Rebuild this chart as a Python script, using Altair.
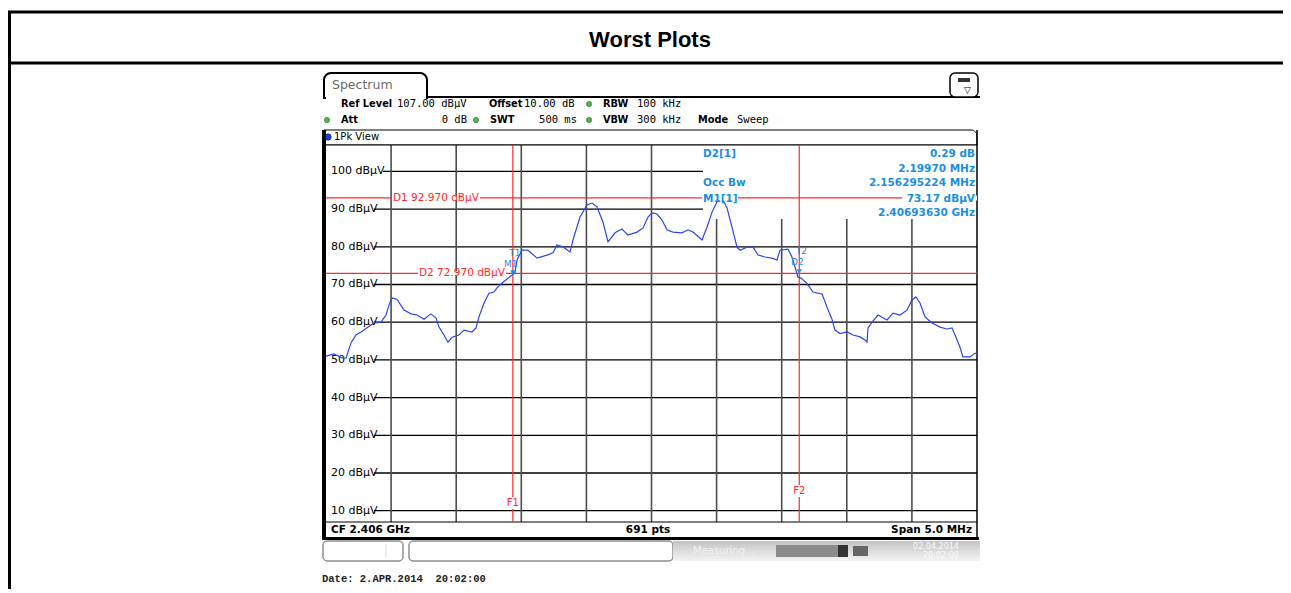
import altair as alt
import pandas as pd
import numpy as np

# ---------------- data ----------------
TITLE = "Worst Plots"

freq_mhz = [
    2403.500, 2403.561, 2403.623, 2403.654, 2403.692, 2403.730, 2403.769, 2403.815, 2403.869, 2403.922,
    2403.961, 2403.984, 2404.007, 2404.045, 2404.099, 2404.153, 2404.199, 2404.253, 2404.306, 2404.345,
    2404.368, 2404.406, 2404.437, 2404.468, 2404.521, 2404.560, 2404.621, 2404.652, 2404.675, 2404.714,
    2404.752, 2404.790, 2404.813, 2404.852, 2404.929, 2404.952, 2404.967, 2405.005, 2405.051, 2405.121,
    2405.197, 2405.243, 2405.274, 2405.320, 2405.374, 2405.397, 2405.451, 2405.505, 2405.543, 2405.581,
    2405.627, 2405.666, 2405.720, 2405.773, 2405.819, 2405.889, 2405.935, 2405.973, 2406.004, 2406.042,
    2406.081, 2406.119, 2406.165, 2406.234, 2406.280, 2406.319, 2406.388, 2406.426, 2406.465, 2406.503,
    2406.541, 2406.580, 2406.618, 2406.657, 2406.680, 2406.733, 2406.780, 2406.818, 2406.872, 2406.925,
    2406.964, 2406.987, 2407.048, 2407.079, 2407.102, 2407.125, 2407.148, 2407.194, 2407.240, 2407.310,
    2407.348, 2407.386, 2407.409, 2407.448, 2407.502, 2407.548, 2407.601, 2407.640, 2407.655, 2407.663,
    2407.694, 2407.740, 2407.809, 2407.855, 2407.909, 2407.962, 2408.001, 2408.031, 2408.062, 2408.101,
    2408.154, 2408.216, 2408.270, 2408.308, 2408.331, 2408.369, 2408.392, 2408.446, 2408.485, 2408.500,
]
level_dbuv = [
    51.0, 51.6, 50.5, 50.5, 54.5, 56.6, 57.4, 58.5, 59.8, 60.0,
    61.9, 64.6, 66.4, 66.1, 63.2, 62.2, 61.9, 60.8, 62.2, 61.1,
    58.7, 56.6, 54.7, 56.0, 56.6, 57.9, 57.4, 58.5, 61.4, 65.1,
    67.7, 68.0, 69.1, 70.4, 72.5, 73.2, 76.5, 79.1, 79.1, 77.0,
    77.8, 78.4, 80.5, 80.0, 78.6, 81.8, 87.9, 91.1, 91.6, 90.6,
    86.6, 81.3, 83.7, 84.7, 83.1, 83.9, 85.0, 87.9, 89.0, 88.7,
    87.1, 84.5, 83.9, 83.7, 84.5, 83.9, 81.8, 85.2, 89.2, 91.9,
    93.0, 90.3, 85.2, 79.9, 79.1, 79.9, 79.9, 77.8, 77.3, 77.0,
    76.5, 79.1, 79.4, 77.3, 74.6, 72.0, 71.7, 70.3, 68.0, 67.5,
    64.0, 60.8, 57.9, 57.0, 57.4, 56.6, 56.1, 55.3, 54.7, 58.5,
    60.0, 61.9, 60.6, 62.4, 61.9, 63.2, 65.9, 66.7, 65.1, 61.4,
    59.8, 58.7, 58.2, 58.5, 56.6, 53.4, 50.8, 50.8, 51.8, 51.5,
]

level_ticks = [100, 90, 80, 70, 60, 50, 40, 30, 20, 10]
level_tick_labels = ["100 dBµV", "90 dBµV", "80 dBµV", "70 dBµV", "60 dBµV",
                     "50 dBµV", "40 dBµV", "30 dBµV", "20 dBµV", "10 dBµV"]
freq_grid = [2404.0, 2404.5, 2405.0, 2405.5, 2406.0, 2406.5, 2407.0, 2407.5, 2408.0]

display_line_db = [92.97, 72.97]
display_line_names = ["D1  92.970 dBµV", "D2  72.970 dBµV"]
freq_line_mhz = [2404.935, 2407.135]
freq_line_names = ["F1", "F2"]

marker_freq = [2404.935, 2407.135]
marker_level = [73.17, 73.46]
marker_top = ["T1", "T2"]
marker_sub = ["M1", "D2"]

header_row1 = [("Ref Level", True), ("107.00 dBµV", False), ("Offset", True), ("10.00 dB", False),
               ("RBW", True), ("100 kHz", False)]
header_row2 = [("Att", True), ("0 dB", False), ("SWT", True), ("500 ms", False),
               ("VBW", True), ("300 kHz", False), ("Mode", True), ("Sweep", False)]
marker_left = ["D2[1]", "Occ Bw", "M1[1]"]
marker_right = ["0.29 dB", "2.19970 MHz", "2.156295224 MHz", "73.17 dBµV", "2.40693630 GHz"]
footer_texts = ["CF 2.406 GHz", "691 pts", "Span 5.0 MHz"]
date_text = "Date: 2.APR.2014\u00a0\u00a020:02:00"

# ---------------- layout ----------------
W, H = 651, 377
FONT = "DejaVu Sans"
MONO = "DejaVu Sans Mono"
BLUE = "#1c8ee0"
RED = "#ff2a2a"
TRACE = "#2c44f2"

xs = alt.Scale(domain=[2403.5, 2408.5], nice=False, zero=False)
ys = alt.Scale(domain=[7, 107], nice=False, zero=False)
base = alt.Chart(pd.DataFrame({"k": [0]}))


def txt(s, x, y, size=10.0, color="black", bold=False, align="left", font=FONT):
    return base.mark_text(text=s, fontSize=size, color=color, font=font,
                          fontWeight="bold" if bold else "normal",
                          align=align, baseline="middle").encode(x=alt.value(x), y=alt.value(y))


def hline(x0, x1, y, color="black", w=1.0):
    return base.mark_rule(color=color, strokeWidth=w).encode(
        x=alt.value(x0), x2=alt.value(x1), y=alt.value(y))


def vline(x, y0, y1, color="black", w=1.0):
    return base.mark_rule(color=color, strokeWidth=w).encode(
        x=alt.value(x), y=alt.value(y0), y2=alt.value(y1))


def box(x0, x1, y0, y1, fill, stroke=None, sw=1.0, **kw):
    args = dict(fill=fill, **kw)
    if stroke is not None:
        args.update(stroke=stroke, strokeWidth=sw)
    return base.mark_rect(**args).encode(
        x=alt.value(x0), x2=alt.value(x1), y=alt.value(y0), y2=alt.value(y1))


def dot(x, y, color, stroke, size=26):
    return base.mark_point(shape="circle", filled=True, size=size, color=color,
                           stroke=stroke, strokeWidth=0.8, opacity=1).encode(
        x=alt.value(x), y=alt.value(y))


layers = []

# outer table
layers += [
    hline(-318, 960, -133, w=3),
    hline(-318, 960, -82, w=3),
    vline(-316.5, -134, 460, w=3),
    txt(TITLE, 324, -105, size=22, bold=True, font="Liberation Sans", align="center"),
]

# spectrum tab and header
layers += [
    box(-2, 101, -72, -47, "white", stroke="black", sw=2,
        cornerRadiusTopLeft=7, cornerRadiusTopRight=7),
    hline(0, 100, -47, color="white", w=3),
    hline(100, 654, -48, w=2),
    txt("Spectrum", 6, -60, size=12.5, color="#6a6a6a"),
    box(624, 652, -72, -48, "white", stroke="black", sw=1.5, cornerRadius=5),
    box(632, 644, -67, -63, "#333333"),
    txt("▽", 638, -55, size=9),
]
r1 = [(15, "left"), (71, "left"), (163, "left"), (198, "left"), (277, "left"), (311, "left")]
for (s, b), (x, a) in zip(header_row1, r1):
    if b:
        layers.append(txt(s, x, -41, size=9.8, bold=True, align=a))
    else:
        layers.append(txt(s, x, -41, size=10.5, font=MONO, align=a))
r2 = [(15, "left"), (141, "right"), (164, "left"), (251, "right"), (277, "left"), (311, "left"),
      (372, "left"), (411, "left")]
for (s, b), (x, a) in zip(header_row2, r2):
    if b:
        layers.append(txt(s, x, -25, size=9.8, bold=True, align=a))
    else:
        layers.append(txt(s, x, -25, size=10.5, font=MONO, align=a))
for x, y in [(263, -41), (1, -25), (150, -25), (263, -25)]:
    layers.append(dot(x, y, "#53b84f", "#2f7f2c"))

# 1Pk View bar and frame
layers += [
    box(-2, 651, -15, 0, "white", stroke="black", sw=1, cornerRadiusTopRight=6),
    dot(2, -8, "#1f3fd6", "#0a1f90", size=40),
    txt("1Pk View", 8, -8, size=10),
    box(0, W, 0, H, "white"),
]

# grid
hg = pd.DataFrame({"db": level_ticks, "label": level_tick_labels})
hg["x0"] = np.where(hg["db"] >= 100, 57, 48)
hg["x1"] = np.where(hg["db"] >= 90, 377, W)
layers.append(alt.Chart(hg).mark_rule(color="black", strokeWidth=1.3).encode(
    x=alt.X("x0:Q", scale=None), x2="x1:Q", y=alt.Y("db:Q", scale=ys, axis=None)))
layers.append(alt.Chart(hg).mark_text(align="left", baseline="middle", fontSize=11, font=FONT,
                                      color="black").encode(
    x=alt.value(5), y=alt.Y("db:Q", scale=ys, axis=None), text="label:N"))

vg = pd.DataFrame({"f": freq_grid})
vg["top"] = np.where(vg["f"] > 2406.2, 87.4, 107.0)
vg["bot"] = 7.0
layers.append(alt.Chart(vg).mark_rule(color="#4d4d4d", strokeWidth=1.6).encode(
    x=alt.X("f:Q", scale=xs, axis=None), y=alt.Y("top:Q", scale=ys, axis=None), y2="bot:Q"))

# frame lines
layers += [
    hline(0, W, 0, w=1.2),
    hline(0, W, H, w=1.2),
    vline(W, -15, 392, w=1.5),
    box(-4, 0, -15, 395, "black"),
]

# display lines (horizontal red)
dl = pd.DataFrame({"db": display_line_db, "name": display_line_names})
layers.append(alt.Chart(dl).mark_rule(color=RED, strokeWidth=1.2).encode(
    x=alt.value(0), x2=alt.value(W), y=alt.Y("db:Q", scale=ys, axis=None)))
for i, x0 in enumerate([66, 92]):
    sub = dl.iloc[[i]]
    layers.append(alt.Chart(sub).mark_rule(color="white", strokeWidth=4).encode(
        x=alt.value(x0), x2=alt.value(x0 + 88), y=alt.Y("db:Q", scale=ys, axis=None)))
    layers.append(alt.Chart(sub).mark_text(align="left", baseline="middle", fontSize=10.5,
                                           font=FONT, color=RED).encode(
        x=alt.value(x0 + 1), y=alt.Y("db:Q", scale=ys, axis=None), text="name:N"))

# frequency lines (vertical red)
fl = pd.DataFrame({"f": freq_line_mhz, "name": freq_line_names, "ly": [358, 346]})
layers.append(alt.Chart(fl).mark_rule(color=RED, strokeWidth=1.2).encode(
    x=alt.X("f:Q", scale=xs, axis=None), y=alt.value(0), y2=alt.value(H)))
for i in range(2):
    sub = fl.iloc[[i]]
    ly = int(sub["ly"].iloc[0])
    layers.append(alt.Chart(sub).mark_rule(color="white", strokeWidth=4).encode(
        x=alt.X("f:Q", scale=xs, axis=None), y=alt.value(ly - 6), y2=alt.value(ly + 6)))
    layers.append(alt.Chart(sub).mark_text(align="center", baseline="middle", fontSize=10,
                                           font=FONT, color=RED).encode(
        x=alt.X("f:Q", scale=xs, axis=None), y=alt.value(ly), text="name:N"))

# trace
tr = pd.DataFrame({"f": freq_mhz, "lvl": level_dbuv})
layers.append(alt.Chart(tr).mark_line(color=TRACE, strokeWidth=1.2, clip=True).encode(
    x=alt.X("f:Q", scale=xs, axis=None), y=alt.Y("lvl:Q", scale=ys, axis=None), order="f:Q"))

# markers
mk = pd.DataFrame({"f": marker_freq, "lvl": marker_level, "t": marker_top, "s": marker_sub})
layers.append(alt.Chart(mk).mark_point(shape="triangle-down", filled=True, size=28,
                                       color=BLUE, opacity=1).encode(
    x=alt.X("f:Q", scale=xs, axis=None), y=alt.Y("lvl:Q", scale=ys, axis=None)))
layers.append(alt.Chart(mk).mark_text(fontSize=9, font=FONT, color=BLUE, dy=-20, dx=2).encode(
    x=alt.X("f:Q", scale=xs, axis=None), y=alt.Y("lvl:Q", scale=ys, axis=None), text="t:N"))
layers.append(alt.Chart(mk).mark_text(fontSize=9, font=FONT, color=BLUE, dy=-9, dx=-2).encode(
    x=alt.X("f:Q", scale=xs, axis=None), y=alt.Y("lvl:Q", scale=ys, axis=None), text="s:N"))

# marker table (top right)
layers += [
    hline(376, 412, 53, color="white", w=5),
    hline(576, 651, 53, color="white", w=5),
]
for s, y in zip(marker_left, [9, 38, 54]):
    layers.append(txt(s, 377, y, size=10.5, color=BLUE, bold=True))
for s, y in zip(marker_right, [9, 24, 38, 54, 68]):
    layers.append(txt(s, 649, y, size=10.5, color=BLUE, bold=True, align="right"))

# footer bar
layers += [
    txt(footer_texts[0], 5, 385, size=10.5, bold=True),
    txt(footer_texts[1], 322, 385, size=10.5, bold=True, align="center"),
    txt(footer_texts[2], 646, 385, size=10.5, bold=True, align="right"),
    hline(-4, 653, 393.5, w=3),
]

# status bar
grad = alt.Gradient(gradient="linear",
                    stops=[alt.GradientStop(color="#c4c4c4", offset=0),
                           alt.GradientStop(color="#f4f4f4", offset=1)],
                    x1=0, x2=0, y1=0, y2=1)
layers += [
    box(-3, 77, 396, 416, "white", stroke="#555555", sw=1, cornerRadius=4),
    vline(60, 399, 413, color="#dddddd"),
    box(83, 347, 396, 416, "white", stroke="#555555", sw=1, cornerRadius=4),
    box(347, 654, 396, 416, grad),
    txt("Measuring...", 367, 406, size=10, color="#f2f2f2"),
    box(450, 512, 400, 412, "#8c8c8c"),
    box(512, 522, 400, 412, "#333333"),
    box(527, 542, 401, 411, "#666666"),
    txt("02.04.2014", 610, 402, size=8, color="#fafafa", align="center"),
    txt("20:02:00", 615, 411, size=8, color="#fafafa", align="center"),
]

# date line
layers.append(txt(date_text, -4, 434, size=10.5, bold=True, font="Liberation Mono", color="#222222"))

chart = alt.layer(*layers).properties(
    width=W, height=H,
    autosize=alt.AutoSizeParams(type="none"),
    padding={"left": 318, "top": 137, "right": 306, "bottom": 67},
    background="white",
).configure_view(strokeWidth=0)

chart.save("out.html", embed_options={"renderer": "svg", "actions": False})
